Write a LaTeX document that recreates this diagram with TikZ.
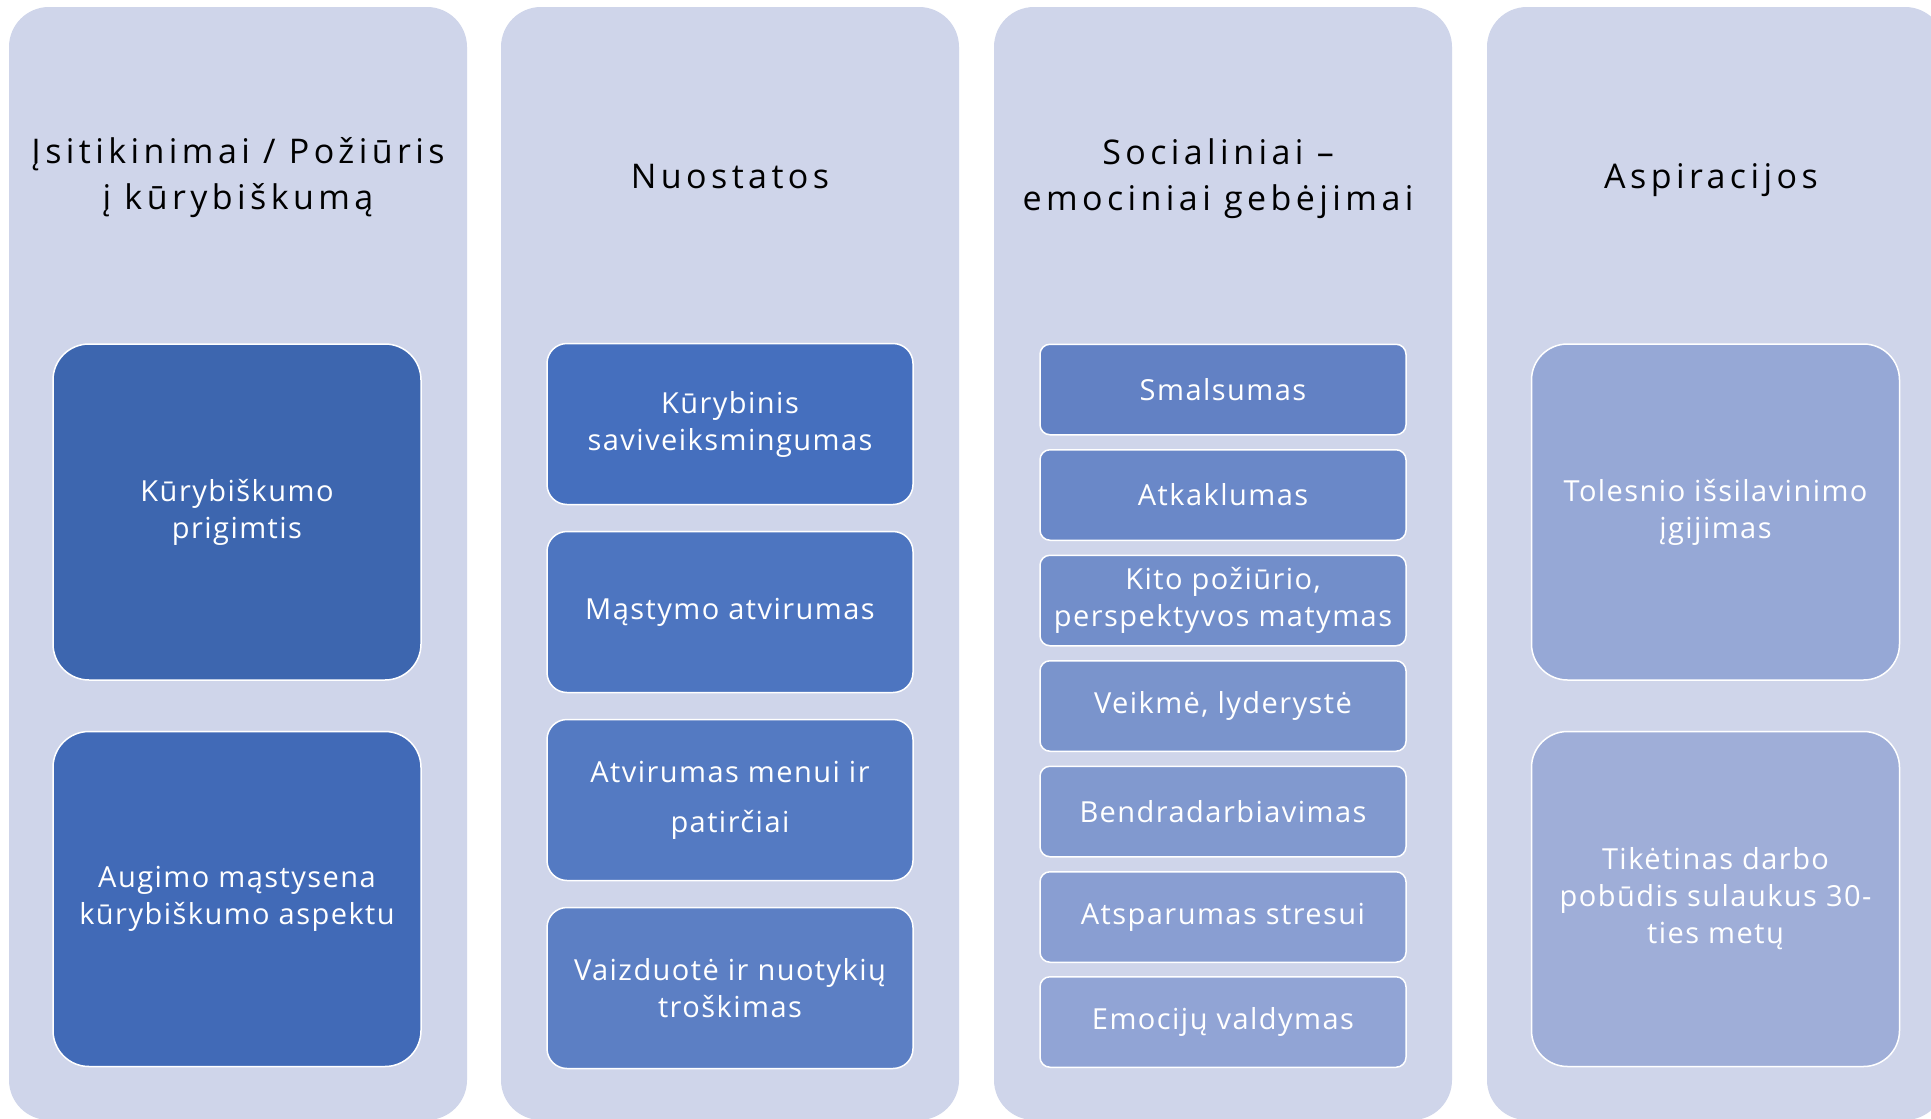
\documentclass[tikz,border=0pt]{standalone}
\usepackage{fontspec}
\setmainfont{Open Sans}
\newfontfamily\boxfont{Open Sans}[LetterSpace=5]
\newfontfamily\titlefont{Open Sans}[LetterSpace=13]
\definecolor{colbg}{RGB}{207,213,234}
\definecolor{cA1}{RGB}{61,102,175}
\definecolor{cA2}{RGB}{65,106,183}
\definecolor{cB1}{RGB}{69,111,190}
\definecolor{cB2}{RGB}{77,117,192}
\definecolor{cB3}{RGB}{84,122,194}
\definecolor{cB4}{RGB}{92,127,196}
\definecolor{cC1}{RGB}{98,129,196}
\definecolor{cC2}{RGB}{106,136,200}
\definecolor{cC3}{RGB}{114,142,202}
\definecolor{cC4}{RGB}{122,148,204}
\definecolor{cC5}{RGB}{129,153,207}
\definecolor{cC6}{RGB}{137,158,210}
\definecolor{cC7}{RGB}{145,164,213}
\definecolor{cD1}{RGB}{150,168,214}
\definecolor{cD2}{RGB}{159,174,216}
\tikzset{
  column/.style={fill=colbg, draw=none, rounded corners=40pt, minimum width=458pt, minimum height=1113pt, inner sep=0pt},
  title/.style={text=black, align=center, font=\titlefont\fontsize{34}{46}\selectfont, inner sep=0pt},
  bigbox/.style={draw=white, line width=1.5pt, rounded corners=36pt, minimum width=368pt, minimum height=336pt, inner sep=0pt, text=white, align=center, font=\boxfont\fontsize{29}{37}\selectfont},
  midbox/.style={draw=white, line width=1.5pt, rounded corners=20pt, minimum width=366pt, minimum height=161pt, inner sep=0pt, text=white, align=center, font=\boxfont\fontsize{29}{37}\selectfont},
  smallbox/.style={draw=white, line width=1.5pt, rounded corners=10pt, minimum width=366pt, minimum height=90.5pt, inner sep=0pt, text=white, align=center, font=\boxfont\fontsize{29}{37}\selectfont}
}
\begin{document}
\begin{tikzpicture}[x=1pt,y=-1pt]
\useasboundingbox (0,0) rectangle (1931,1119);
\clip (0,0) rectangle (1931,1119);
\fill[white] (0,0) rectangle (1931,1119);
% columns
\node[column] (col1) at (238,563.5) {};
\node[column] (col2) at (730,563.5) {};
\node[column] (col3) at (1223,563.5) {};
\node[column] (col4) at (1716,563.5) {};
% titles
\node[title] (t1) at (238,178) {Įsitikinimai / Požiūris\\į kūrybiškumą};
\node[title] (t2) at (730,177) {Nuostatos};
\node[title] (t3) at (1218,179) {Socialiniai –\\emociniai gebėjimai};
\node[title] (t4) at (1711,180) {Aspiracijos};
% column 1
\node[bigbox, fill=cA1] (a1) at (237,512) {Kūrybiškumo\\prigimtis};
\node[bigbox, fill=cA2, minimum height=335pt] (a2) at (237,899) {Augimo mąstysena\\kūrybiškumo aspektu};
% column 2
\node[midbox, fill=cB1] (b1) at (730,424) {Kūrybinis\\saviveiksmingumas};
\node[midbox, fill=cB2] (b2) at (730,612) {Mąstymo atvirumas};
\node[midbox, fill=cB3, font=\boxfont\fontsize{29}{50}\selectfont] (b3) at (730,800) {Atvirumas menui ir\\patirčiai};
\node[midbox, fill=cB4] (b4) at (730,988) {Vaizduotė ir nuotykių\\troškimas};
% column 3
\node[smallbox, fill=cC1] (c1) at (1223,389.5) {Smalsumas};
\node[smallbox, fill=cC2] (c2) at (1223,495) {Atkaklumas};
\node[smallbox, fill=cC3] (c3) at (1223,600.5) {Kito požiūrio,\\perspektyvos matymas};
\node[smallbox, fill=cC4] (c4) at (1223,706) {Veikmė, lyderystė};
\node[smallbox, fill=cC5] (c5) at (1223,811.5) {Bendradarbiavimas};
\node[smallbox, fill=cC6] (c6) at (1223,917) {Atsparumas stresui};
\node[smallbox, fill=cC7] (c7) at (1223,1022) {Emocijų valdymas};
% column 4
\node[bigbox, fill=cD1] (d1) at (1715.5,512) {Tolesnio išsilavinimo\\įgijimas};
\node[bigbox, fill=cD2, minimum height=335pt] (d2) at (1715.5,899) {Tikėtinas darbo\\pobūdis sulaukus 30-\\ties metų};
\end{tikzpicture}
\end{document}
